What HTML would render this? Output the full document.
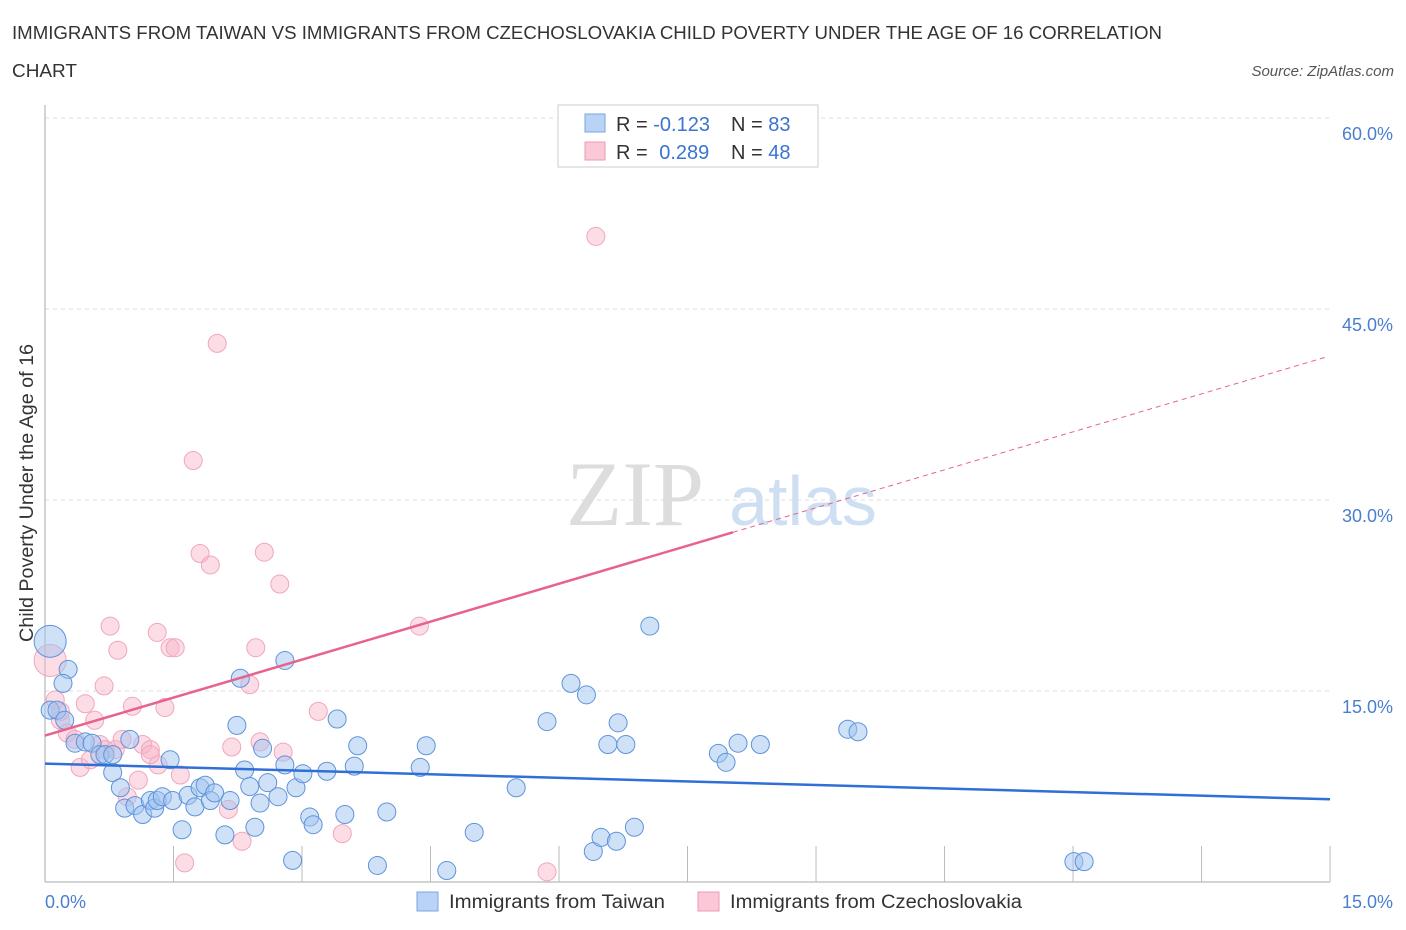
<!DOCTYPE html>
<html><head><meta charset="utf-8"><style>
body{margin:0;background:#fff;font-family:"Liberation Sans",sans-serif;}
svg{display:block}
</style></head><body>
<svg id="c" width="1406" height="930" xmlns="http://www.w3.org/2000/svg">
<text x="12" y="39" font-size="18" fill="#333" textLength="1150" lengthAdjust="spacingAndGlyphs">IMMIGRANTS FROM TAIWAN VS IMMIGRANTS FROM CZECHOSLOVAKIA CHILD POVERTY UNDER THE AGE OF 16 CORRELATION</text>
<text x="12" y="77" font-size="18" fill="#333" textLength="65" lengthAdjust="spacingAndGlyphs">CHART</text>
<text x="1394" y="76" font-size="15" font-style="italic" fill="#555" text-anchor="end">Source: ZipAtlas.com</text>
<g>
<text x="635" y="525" font-size="92" font-family="Liberation Serif,serif" fill="#ddd" text-anchor="middle">ZIP</text>
<text x="803" y="525" font-size="70" fill="#cfdff3" text-anchor="middle">atlas</text>
</g>
<g id="grid"></g>
<g id="pts"></g>
<g id="trend"></g>
<text x="33" y="493" font-size="19" fill="#333" text-anchor="middle" textLength="298" lengthAdjust="spacingAndGlyphs" transform="rotate(-90 33 493)">Child Poverty Under the Age of 16</text>
<text x="45" y="908" font-size="18" fill="#4a7fd0">0.0%</text>
<text x="1393" y="908" font-size="18" fill="#4a7fd0" text-anchor="end">15.0%</text>
<g>
<rect x="558" y="105" width="260" height="62" fill="#fff" stroke="#ccc"/>
<rect x="585" y="114" width="20" height="18" fill="#b8d3f5" stroke="#7aa6e0"/>
<rect x="585" y="142" width="20" height="18" fill="#fac8d6" stroke="#ef9ab2"/>
<text x="616" y="131" font-size="20" fill="#333">R = <tspan fill="#3a74d0">-0.123</tspan></text>
<text x="731" y="131" font-size="20" fill="#333">N = <tspan fill="#3a74d0">83</tspan></text>
<text x="616" y="159" font-size="20" fill="#333">R = <tspan fill="#3a74d0" dx="6">0.289</tspan></text>
<text x="731" y="159" font-size="20" fill="#333">N = <tspan fill="#3a74d0">48</tspan></text>
</g>
<g>
<rect x="417" y="892" width="21" height="19" fill="#b8d3f5" stroke="#7aa6e0"/>
<text x="449" y="908" font-size="19" fill="#333" textLength="216" lengthAdjust="spacingAndGlyphs">Immigrants from Taiwan</text>
<rect x="698" y="892" width="21" height="19" fill="#fac8d6" stroke="#ef9ab2"/>
<text x="730" y="908" font-size="19" fill="#333" textLength="292" lengthAdjust="spacingAndGlyphs">Immigrants from Czechoslovakia</text>
</g>
</svg>
<script>
const yTicks=[15,30,45,60];
const yTickLabels=["15.0%","30.0%","45.0%","60.0%"];
const xTicks=[1.5,3,4.5,6,7.5,9,10.5,12,13.5,15];
const blueX=[0.06,0.27,0.21,0.06,0.14,0.35,0.47,0.55,0.64,0.70,0.79,0.88,0.93,1.05,1.14,1.23,1.28,1.31,1.37,1.49,1.60,1.67,1.75,1.81,1.87,1.93,1.98,2.10,2.16,2.24,2.28,2.33,2.39,2.45,2.51,2.54,2.60,2.72,2.80,2.80,2.89,2.93,3.01,3.09,3.13,3.29,3.41,3.50,3.61,3.65,3.88,3.99,4.38,4.45,4.69,5.01,5.50,5.86,6.14,6.32,6.40,6.49,6.57,6.67,6.69,6.78,6.88,7.06,7.86,7.95,8.09,8.35,9.37,9.49,12.01,12.13,0.79,1.46,0.99,0.23];
const blueY=[18.9,16.7,15.6,13.5,13.5,10.9,11.0,10.9,10.0,10.0,8.6,7.4,5.8,6.0,5.3,6.4,5.8,6.4,6.7,6.4,4.1,6.8,5.9,7.4,7.6,6.4,7.0,3.7,6.4,12.3,16.0,8.8,7.5,4.3,6.2,10.5,7.8,6.7,17.4,9.2,1.7,7.4,8.5,5.1,4.5,8.7,12.8,5.3,9.1,10.7,1.3,5.5,9.0,10.7,0.9,3.9,7.4,12.6,15.6,14.7,2.4,3.5,10.8,3.2,12.5,10.8,4.3,20.1,10.1,9.4,10.9,10.8,12.0,11.8,1.6,1.6,10.0,9.6,11.2,12.7];
const pinkX=[0.06,0.12,0.18,0.26,0.35,0.41,0.47,0.53,0.58,0.64,0.69,0.76,0.82,0.85,0.90,0.96,1.02,1.09,1.14,1.23,1.31,1.32,1.40,1.46,1.52,1.58,1.63,1.73,1.81,1.93,2.01,2.14,2.18,2.30,2.39,2.46,2.51,2.56,2.74,2.78,3.19,3.47,4.37,5.86,6.43,1.23,0.70,0.18];
const pinkY=[17.4,14.3,12.7,11.7,11.2,9.0,14.0,9.6,12.7,10.8,15.4,20.1,10.4,18.2,11.2,6.7,13.8,8.0,10.8,10.4,19.6,9.2,13.7,18.4,18.4,8.4,1.5,33.1,25.8,24.9,42.3,5.7,10.6,3.2,15.5,18.4,11.0,25.9,23.4,10.2,13.4,3.8,20.1,0.8,50.7,10.0,10.4,13.4];
const blueTrend=[9.3,6.5];
const pinkTrend=[11.5,41.2];
const X=v=>45+v*85.67, Y=v=>882-v*12.733;
const NS="http://www.w3.org/2000/svg";
function mk(t,a,p){const e=document.createElementNS(NS,t);for(const k in a)e.setAttribute(k,a[k]);p.appendChild(e);return e;}
const g=document.getElementById('grid');
yTicks.forEach((t,i)=>{
 const l=mk('line',{x1:45,x2:1330,y1:Y(t),y2:Y(t),stroke:'#ddd','stroke-dasharray':'4,4'},g);
 
 
 const tx=mk('text',{x:1393,y:Y(t)+22,'font-size':18,fill:'#4a7fd0','text-anchor':'end'},g);
 tx.textContent=yTickLabels[i];
 
 
});
const ax=mk('line',{x1:45,x2:45,y1:105,y2:882,stroke:'#aaa'},g);


const bx=mk('line',{x1:45,x2:1330,y1:882,y2:882,stroke:'#aaa'},g);


xTicks.forEach(t=>{
 const l=mk('line',{x1:X(t),x2:X(t),y1:846,y2:882,stroke:'#bbb'},g);
 
 
});
const P=document.getElementById('pts');
pinkX.forEach((x,i)=>{
 const c=mk('circle',{cx:X(x),cy:Y(pinkY[i]),r:i==0?16:9,fill:'rgba(248,180,200,0.45)',stroke:'#f0a6bd','stroke-width':1},P);
 
 
});
blueX.forEach((x,i)=>{
 const c=mk('circle',{cx:X(x),cy:Y(blueY[i]),r:i==0?16:9,fill:'rgba(160,196,240,0.5)',stroke:'#5f93da','stroke-width':1},P);
 
 
});
const T=document.getElementById('trend');
const bl=mk('line',{x1:X(0),y1:Y(blueTrend[0]),x2:X(15),y2:Y(blueTrend[1]),stroke:'#2f6fd6','stroke-width':2.5},T);


const ps=v=>pinkTrend[0]+(pinkTrend[1]-pinkTrend[0])*v/14.94;
const pl=mk('line',{x1:X(0),y1:Y(ps(0)),x2:X(8.03),y2:Y(ps(8.03)),stroke:'#e8628f','stroke-width':2.5},T);


const pd=mk('line',{x1:X(8.03),y1:Y(ps(8.03)),x2:X(14.94),y2:Y(ps(14.94)),stroke:'#e8628f','stroke-width':1,'stroke-dasharray':'5,4'},T);


</script>
</body></html>
